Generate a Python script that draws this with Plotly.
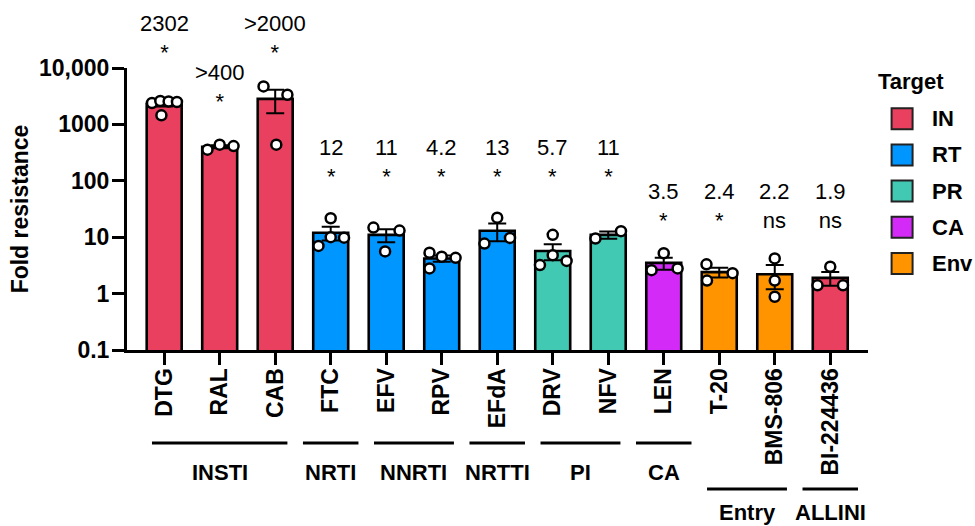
import plotly.graph_objects as go

# ---- data -------------------------------------------------------------
categories = ["DTG", "RAL", "CAB", "FTC", "EFV", "RPV", "EFdA", "DRV", "NFV",
              "LEN", "T-20", "BMS-806", "BI-224436"]
targets = ["IN", "IN", "IN", "RT", "RT", "RT", "RT", "PR", "PR",
           "CA", "Env", "Env", "IN"]
fold_mean = [2302, 402, 2834, 12, 11, 4.2, 13, 5.7, 11, 3.5, 2.4, 2.2, 1.9]
fold_sem = [216, 24, 1261, 3.3, 2.9, 0.52, 4.5, 1.8, 1.65, 0.84, 0.48, 1.0, 0.52]
replicates = [
    [2400, 2600, 2550, 2500, 1450],
    [357, 437, 413],
    [4710, 3356, 437],
    [7.0, 21.7, 10.0, 9.8],
    [14.8, 13.1, 5.6],
    [5.3, 4.5, 4.3, 2.8],
    [22.2, 7.7, 9.7],
    [11.0, 4.8, 3.2, 3.8],
    [9.5, 12.8],
    [5.2, 2.6, 2.8],
    [3.3, 2.3, 1.7],
    [4.2, 1.7, 0.88],
    [3.0, 1.4, 1.4],
]
value_labels = ["2302", ">400", ">2000", "12", "11", "4.2", "13", "5.7", "11",
                "3.5", "2.4", "2.2", "1.9"]
significance = ["*"] * 11 + ["ns", "ns"]
target_names = ["IN", "RT", "PR", "CA", "Env"]
target_colors = {"IN": "#E9405F", "RT": "#0096FF", "PR": "#41C9B4",
                 "CA": "#D42AF7", "Env": "#FF9400"}
# drug classes: (name, first index, last index, row)
drug_classes = [("INSTI", 0, 2, 0), ("NRTI", 3, 3, 0), ("NNRTI", 4, 5, 0),
                ("NRTTI", 6, 6, 0), ("PI", 7, 8, 0), ("CA", 9, 9, 0),
                ("Entry", 10, 11, 1), ("ALLINI", 12, 12, 1)]
y_tick_values = [0.1, 1, 10, 100, 1000, 10000]
y_tick_text = ["0.1", "1", "10", "100", "1000", "10,000"]

# ---- styling / placement ---------------------------------------------
FONT = "Liberation Sans, Arial, Helvetica, sans-serif"
BAR_W = 0.63
# horizontal spread of replicate dots inside each bar (category units)
jitter = [
    [-0.22, -0.07, 0.08, 0.23, -0.05],
    [-0.22, 0.0, 0.25],
    [-0.21, 0.22, 0.02],
    [-0.22, 0.0, 0.0, 0.24],
    [-0.23, 0.24, -0.02],
    [-0.22, 0.0, 0.25, -0.22],
    [0.0, -0.23, 0.23],
    [0.0, 0.0, -0.23, 0.25],
    [-0.23, 0.23],
    [0.0, -0.22, 0.25],
    [-0.23, 0.24, -0.22],
    [0.0, 0.0, 0.0],
    [0.0, -0.23, 0.23],
]
# vertical level (paper units) of the value / significance annotation per bar
label_level = [1.107, 0.933, 1.107, 0.668, 0.668, 0.668, 0.668, 0.668, 0.668,
               0.510, 0.510, 0.510, 0.510]

xs = list(range(len(categories)))

fig = go.Figure()
fig.add_trace(go.Bar(
    x=xs, y=fold_mean, width=BAR_W,
    marker=dict(color=[target_colors[t] for t in targets],
                line=dict(color="black", width=2.6)),
    error_y=dict(type="data", array=fold_sem, visible=True,
                 color="black", thickness=2, width=9),
    showlegend=False,
))

px_, py_ = [], []
for i, reps in enumerate(replicates):
    for v, dx in zip(reps, jitter[i]):
        px_.append(i + dx)
        py_.append(v)
fig.add_trace(go.Scatter(
    x=px_, y=py_, mode="markers", cliponaxis=False,
    marker=dict(symbol="circle", size=10, color="white",
                line=dict(color="black", width=2.5)),
    showlegend=False,
))

annotations = []
for i, (lab, sig) in enumerate(zip(value_labels, significance)):
    annotations.append(dict(
        x=i, y=label_level[i], xref="x", yref="paper", text=f"{lab}<br>{sig}",
        showarrow=False, yanchor="middle", xanchor="center",
        font=dict(family=FONT, size=22, color="black")))

shapes = []
row_line_y = [-0.330, -0.493]
row_text_y = [-0.435, -0.577]
for name, a, b, row in drug_classes:
    pad = 0.5 if a == b else 0.22
    shapes.append(dict(type="line", xref="x", yref="paper",
                       x0=a - pad, x1=b + pad, y0=row_line_y[row], y1=row_line_y[row],
                       line=dict(color="black", width=3)))
    annotations.append(dict(x=(a + b) / 2, y=row_text_y[row], xref="x", yref="paper",
                            text=name, showarrow=False, yanchor="middle",
                            font=dict(family=FONT, size=22, color="black", weight="bold")))

# legend for the target colours
legend_x = 1.046
annotations.append(dict(x=1.011, y=0.953, xref="paper", yref="paper", text="Target",
                        showarrow=False, xanchor="left", yanchor="middle",
                        font=dict(family=FONT, size=22, color="black", weight="bold")))
for k, name in enumerate(target_names):
    yc = 0.820 - k * 0.1283
    shapes.append(dict(type="rect", xref="paper", yref="paper",
                       xsizemode="pixel", ysizemode="pixel",
                       xanchor=legend_x, yanchor=yc, x0=-10.5, x1=10.5, y0=-10.5, y1=10.5,
                       fillcolor=target_colors[name], line=dict(color="#222", width=2)))
    annotations.append(dict(x=1.084, y=yc, xref="paper", yref="paper", text=name,
                            showarrow=False, xanchor="left", yanchor="middle",
                            font=dict(family=FONT, size=22, color="black", weight="bold")))

fig.update_layout(
    width=975, height=526,
    margin=dict(l=127, r=107, t=68, b=176),
    paper_bgcolor="white", plot_bgcolor="white",
    font=dict(family=FONT, color="black"),
    annotations=annotations, shapes=shapes,
)
fig.update_xaxes(
    range=[-0.67, len(categories) - 1 + 0.68],
    tickvals=xs, ticktext=categories, tickangle=-90,
    ticks="outside", ticklen=12, tickwidth=3, tickcolor="black",
    showline=True, linewidth=3, linecolor="black",
    showgrid=False, zeroline=False, ticklabelstandoff=-6,
    tickfont=dict(family=FONT, size=23, color="black", weight="bold"),
)
fig.update_yaxes(
    type="log", range=[-1, 4],
    tickvals=y_tick_values, ticktext=y_tick_text,
    ticks="outside", ticklen=12, tickwidth=3, tickcolor="black",
    showline=True, linewidth=3, linecolor="black",
    showgrid=False, zeroline=False, ticklabelstandoff=-2,
    tickfont=dict(family=FONT, size=23, color="black", weight="bold"),
    title=dict(text="Fold resistance", standoff=4,
               font=dict(family=FONT, size=23, color="black", weight="bold")),
)

fig.write_html("out.html")
